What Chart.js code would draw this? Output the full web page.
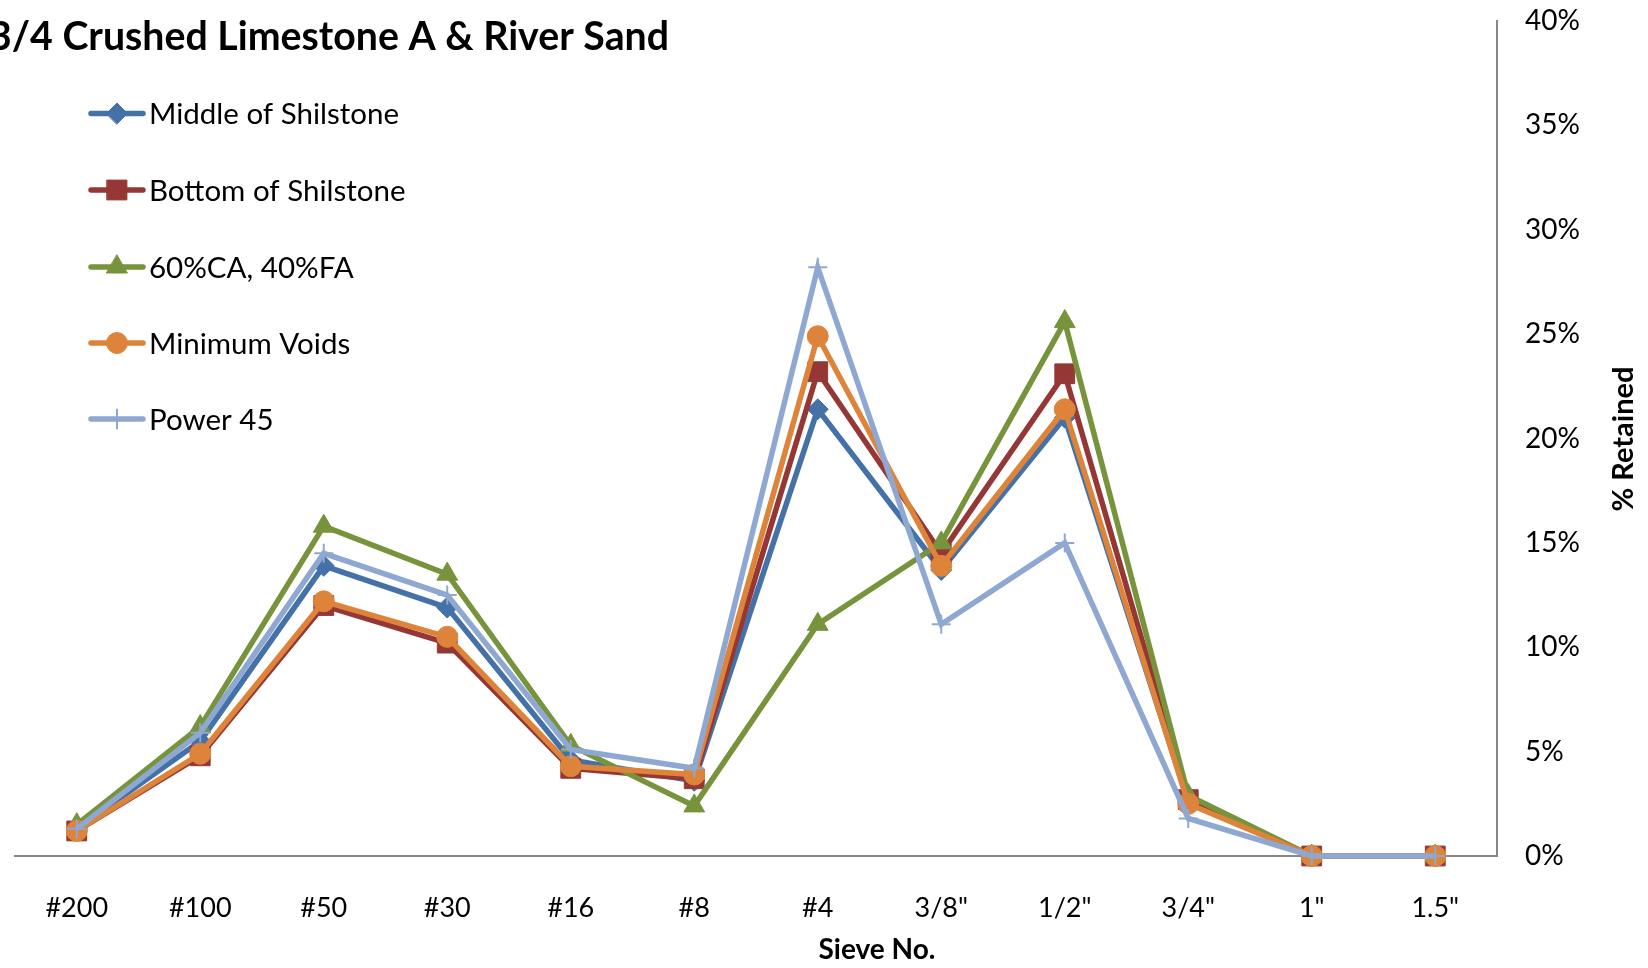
<!DOCTYPE html>
<html>
<head>
<meta charset="utf-8">
<script src="https://cdn.jsdelivr.net/npm/chart.js@4/dist/chart.umd.min.js"></script>
<style>
  html, body { margin: 0; padding: 0; background: #ffffff; }
  #wrap { width: 1648px; height: 968px; position: relative; }
</style>
</head>
<body>
<div id="wrap"><canvas id="chart" width="1648" height="968"></canvas></div>
<script>
// Sieve sizes along the horizontal axis
const sieves = ['#200', '#100', '#50', '#30', '#16', '#8', '#4', '3/8"', '1/2"', '3/4"', '1"', '1.5"'];

// Percent retained on each sieve
const middleOfShilstone = [1.3, 5.5, 13.9, 11.9, 4.6, 3.6, 21.4, 13.7, 21.0, 2.6, 0, 0];
const bottomOfShilstone = [1.2, 4.8, 12.0, 10.2, 4.2, 3.7, 23.2, 14.5, 23.1, 2.7, 0, 0];
const ca60fa40          = [1.5, 6.2, 15.8, 13.5, 5.3, 2.4, 11.1, 15.0, 25.6, 2.9, 0, 0];
const minimumVoids      = [1.2, 4.9, 12.2, 10.5, 4.3, 3.9, 24.9, 13.9, 21.4, 2.5, 0, 0];
const power45           = [1.3, 5.9, 14.5, 12.5, 5.1, 4.2, 28.2, 11.1, 15.0, 1.8, 0, 0];

// Percent axis range
const yMin = 0;
const yMax = 40;
const yStep = 5;

const chartTitle = '3/4 Crushed Limestone A & River Sand';
const xTitle = 'Sieve No.';
const yTitle = '% Retained';

const FONT = 'Lato, "Open Sans", sans-serif';

const seriesDefs = [
  { label: 'Middle of Shilstone', data: middleOfShilstone, color: '#4472A8', style: 'rectRot', radius: 10.5 },
  { label: 'Bottom of Shilstone', data: bottomOfShilstone, color: '#953735', style: 'rect', radius: 14 },
  { label: '60%CA, 40%FA', data: ca60fa40, color: '#77933C', style: 'triangle', radius: 12 },
  { label: 'Minimum Voids', data: minimumVoids, color: '#DD843A', style: 'circle', radius: 10.5 },
  { label: 'Power 45', data: power45, color: '#8EA8D2', style: 'cross', radius: 9.5 }
];

const LINE_W = 5.5;

const datasets = seriesDefs.map((s, i) => ({
  label: s.label,
  data: s.data,
  borderColor: s.color,
  backgroundColor: s.color,
  borderWidth: LINE_W,
  pointStyle: s.style,
  pointRadius: s.radius,
  pointHoverRadius: s.radius,
  pointBackgroundColor: s.color,
  pointBorderColor: s.color,
  pointBorderWidth: s.style === 'cross' ? 2 : 1,
  tension: 0,
  fill: false,
  clip: false,
  order: seriesDefs.length - 1 - i
}));

// Title, rotated y title, x title and the stacked legend on the left
const decorations = {
  id: 'decorations',
  afterDraw(chart) {
    const ctx = chart.ctx;
    ctx.save();
    ctx.fillStyle = '#000000';

    // chart title (runs off the left edge)
    ctx.font = 'bold 40px ' + FONT;
    ctx.textAlign = 'right';
    ctx.textBaseline = 'alphabetic';
    ctx.fillText(chartTitle, 669, 50, 680);

    // x axis title
    ctx.font = 'bold 28px ' + FONT;
    ctx.textAlign = 'center';
    ctx.textBaseline = 'middle';
    ctx.fillText(xTitle, 877, 950);

    // y axis title, reading upward
    ctx.save();
    ctx.font = 'bold 29px ' + FONT;
    ctx.translate(1624, 439);
    ctx.rotate(-Math.PI / 2);
    ctx.fillText(yTitle, 0, 0);
    ctx.restore();

    // legend
    const rowY = [113.5, 190, 267, 343, 419];
    chart.data.datasets.forEach((ds, i) => {
      const y = rowY[i];
      ctx.strokeStyle = ds.borderColor;
      ctx.lineWidth = LINE_W;
      ctx.lineCap = 'round';
      ctx.beginPath();
      ctx.moveTo(91, y);
      ctx.lineTo(143, y);
      ctx.stroke();
      ctx.fillStyle = ds.pointBackgroundColor;
      ctx.strokeStyle = ds.pointBorderColor;
      ctx.lineWidth = ds.pointBorderWidth;
      Chart.helpers.drawPoint(ctx, {
        pointStyle: ds.pointStyle,
        radius: ds.pointRadius,
        rotation: 0,
        borderWidth: ds.pointBorderWidth
      }, 117, y);
      ctx.fillStyle = '#000000';
      ctx.font = '29.5px ' + FONT;
      ctx.textAlign = 'left';
      ctx.textBaseline = 'middle';
      ctx.fillText(ds.label, 149, y + 1);
    });
    ctx.restore();
  }
};

new Chart(document.getElementById('chart'), {
  type: 'line',
  data: { labels: sieves, datasets: datasets },
  options: {
    responsive: false,
    animation: false,
    devicePixelRatio: 1,
    layout: { padding: { left: 10.5, top: 21, right: 0, bottom: 0 } },
    plugins: {
      legend: { display: false },
      title: { display: false },
      tooltip: { enabled: false }
    },
    scales: {
      x: {
        type: 'category',
        offset: true,
        grid: { display: false, drawTicks: false },
        border: { display: true, color: '#868686', width: 2 },
        ticks: {
          color: '#000000',
          font: { family: FONT, size: 27 },
          padding: 36,
          maxRotation: 0,
          autoSkip: false
        },
        afterFit(scale) {
          scale.height = 112;
          scale.paddingLeft = 0;
          scale.paddingRight = 0;
        }
      },
      y: {
        position: 'right',
        min: yMin,
        max: yMax,
        grid: { display: false, drawTicks: false },
        border: { display: true, color: '#868686', width: 2 },
        ticks: {
          stepSize: yStep,
          color: '#000000',
          font: { family: FONT, size: 28 },
          padding: 28,
          callback: (v) => v + '%'
        },
        afterFit(scale) {
          scale.width = 151;
          scale.paddingTop = 0;
          scale.paddingBottom = 0;
        }
      }
    }
  },
  plugins: [decorations]
});
</script>
</body>
</html>
